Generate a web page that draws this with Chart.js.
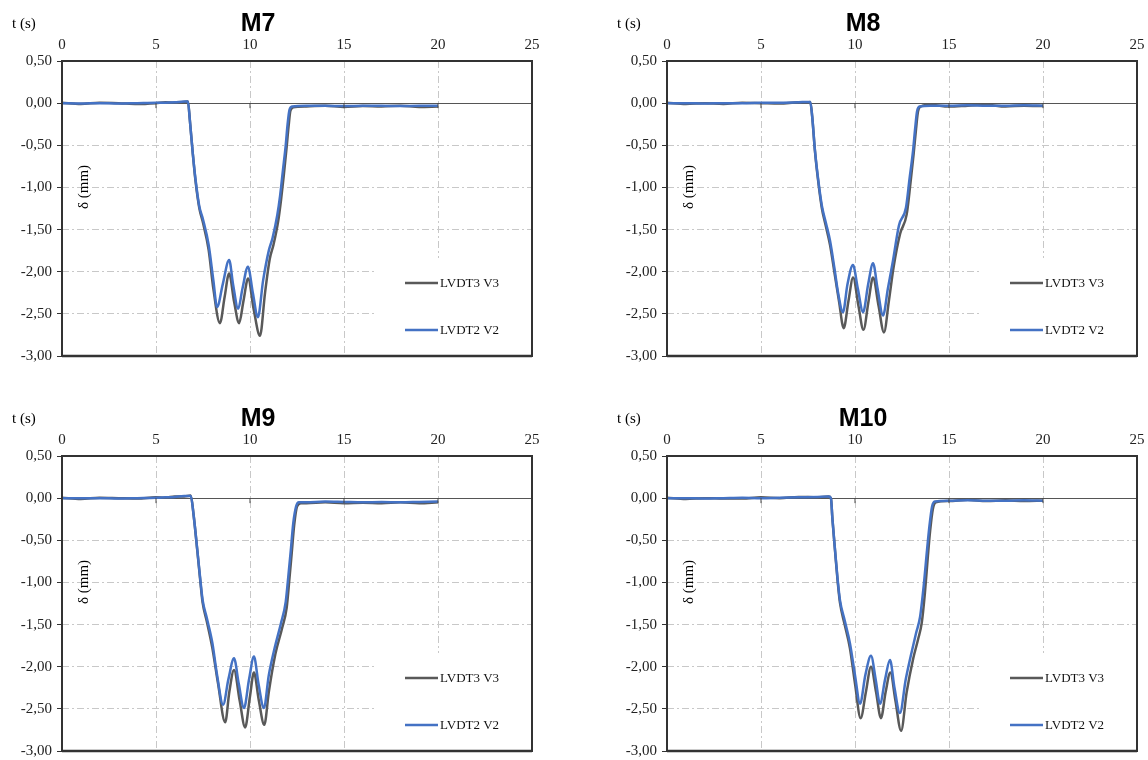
<!DOCTYPE html>
<html lang="es">
<head>
<meta charset="UTF-8">
<title>M7 - M10 LVDT</title>
<script src="https://cdn.jsdelivr.net/npm/chart.js"></script>
<style>
  body { margin: 0; background: #fff; overflow: hidden; width: 1148px; height: 760px; position: relative; }
  .panel { position: absolute; }
</style>
</head>
<body>
<div class="panel" style="left:0;top:0"><canvas id="c7" width="548" height="370"></canvas></div>
<div class="panel" style="left:605px;top:0"><canvas id="c8" width="548" height="370"></canvas></div>
<div class="panel" style="left:0;top:395px"><canvas id="c9" width="548" height="370"></canvas></div>
<div class="panel" style="left:605px;top:395px"><canvas id="c10" width="548" height="370"></canvas></div>
<script>
// labels
const panelTitles = ['M7', 'M8', 'M9', 'M10'];
const seriesNames = ['LVDT3 V3', 'LVDT2 V2'];
const xAxisName = 't (s)';
const yAxisName = 'δ (mm)';
const xTickValues = [0, 5, 10, 15, 20, 25];
const yTickValues = [0.5, 0, -0.5, -1, -1.5, -2, -2.5, -3];

// M7  (t in s, d in mm)  - V2 = blue, V3 = gray
const m7T2 = [0, 1, 2, 3, 4, 5, 5.5, 6, 6.5, 6.7, 6.8, 6.95, 7.1, 7.3, 7.5, 7.8, 8.05, 8.25, 8.55, 8.89, 9.1, 9.37, 9.6, 9.89, 10.15, 10.42, 10.7, 11.0, 11.2, 11.45, 11.6, 11.75, 11.9, 12.0, 12.1, 12.25, 13, 14, 15, 16, 17, 18, 19, 20];
const m7D2 = [0, -0.005, 0, -0.005, 0, 0.005, 0.005, 0.01, 0.02, 0.02, -0.2, -0.58, -0.9, -1.22, -1.38, -1.68, -2.1, -2.42, -2.15, -1.86, -2.15, -2.44, -2.2, -1.94, -2.25, -2.54, -2.1, -1.75, -1.6, -1.33, -1.1, -0.8, -0.5, -0.25, -0.08, -0.04, -0.03, -0.03, -0.035, -0.03, -0.03, -0.035, -0.03, -0.03];
const m7T3 = [0, 1, 2, 3, 4, 5, 5.5, 6, 6.5, 6.7, 6.8, 6.95, 7.1, 7.3, 7.5, 7.8, 8.05, 8.4, 8.65, 8.89, 9.15, 9.42, 9.65, 9.9, 10.2, 10.53, 10.8, 11.05, 11.25, 11.5, 11.65, 11.8, 11.95, 12.05, 12.15, 12.3, 13, 14, 15, 16, 17, 18, 19, 20];
const m7D3 = [0.005, -0.01, 0.005, 0, -0.01, 0, 0.01, 0.005, 0.015, 0.02, -0.2, -0.58, -0.92, -1.24, -1.42, -1.74, -2.2, -2.61, -2.3, -2.02, -2.35, -2.61, -2.35, -2.08, -2.45, -2.76, -2.25, -1.85, -1.68, -1.4, -1.15, -0.85, -0.52, -0.28, -0.09, -0.05, -0.04, -0.03, -0.045, -0.035, -0.04, -0.03, -0.045, -0.04];

// M8
const m8T2 = [0, 1, 2, 3, 4, 5, 6, 7, 7.5, 7.62, 7.72, 7.87, 8.05, 8.24, 8.45, 8.67, 8.9, 9.1, 9.36, 9.6, 9.89, 10.15, 10.43, 10.7, 10.96, 11.2, 11.49, 11.75, 12.02, 12.34, 12.71, 12.9, 13.09, 13.2, 13.3, 13.45, 14, 15, 16, 17, 18, 19, 20];
const m8D2 = [0, 0, -0.005, 0, 0, 0.005, 0.005, 0.01, 0.015, 0.015, -0.15, -0.56, -0.92, -1.22, -1.42, -1.63, -1.95, -2.25, -2.48, -2.15, -1.92, -2.2, -2.48, -2.15, -1.9, -2.2, -2.52, -2.2, -1.87, -1.45, -1.24, -0.9, -0.56, -0.3, -0.1, -0.04, -0.03, -0.03, -0.025, -0.03, -0.03, -0.025, -0.03];
const m8T3 = [0, 1, 2, 3, 4, 5, 6, 7, 7.5, 7.62, 7.72, 7.87, 8.05, 8.24, 8.45, 8.67, 8.9, 9.15, 9.4, 9.65, 9.9, 10.18, 10.45, 10.72, 10.96, 11.25, 11.54, 11.8, 12.05, 12.4, 12.75, 12.95, 13.12, 13.25, 13.35, 13.5, 14, 15, 16, 17, 18, 19, 20];
const m8D3 = [0.005, -0.01, 0, -0.01, 0.005, 0, -0.005, 0.01, 0.01, 0.015, -0.15, -0.57, -0.94, -1.25, -1.46, -1.68, -2.0, -2.35, -2.67, -2.35, -2.07, -2.4, -2.69, -2.35, -2.07, -2.4, -2.72, -2.35, -1.95, -1.55, -1.32, -0.95, -0.6, -0.3, -0.1, -0.04, -0.02, -0.04, -0.03, -0.02, -0.04, -0.03, -0.035];

// M9
const m9T2 = [0, 1, 2, 3, 4, 5, 5.5, 6, 6.5, 6.85, 7.0, 7.2, 7.35, 7.48, 7.7, 8.0, 8.25, 8.57, 8.85, 9.15, 9.4, 9.68, 9.95, 10.21, 10.45, 10.74, 11.0, 11.32, 11.64, 11.9, 12.05, 12.17, 12.3, 12.45, 12.6, 13, 14, 15, 16, 17, 18, 19, 20];
const m9D2 = [0, 0, 0, -0.005, 0, 0.005, 0.01, 0.015, 0.025, 0.025, -0.2, -0.62, -0.95, -1.21, -1.42, -1.72, -2.1, -2.45, -2.15, -1.9, -2.2, -2.49, -2.15, -1.88, -2.2, -2.49, -2.1, -1.77, -1.49, -1.23, -0.9, -0.62, -0.3, -0.1, -0.05, -0.05, -0.04, -0.045, -0.05, -0.045, -0.05, -0.045, -0.04];
const m9T3 = [0, 1, 2, 3, 4, 5, 5.5, 6, 6.5, 6.85, 7.0, 7.2, 7.35, 7.48, 7.7, 8.0, 8.3, 8.68, 8.9, 9.15, 9.45, 9.74, 10.0, 10.21, 10.47, 10.76, 11.0, 11.35, 11.7, 11.95, 12.1, 12.22, 12.35, 12.5, 12.7, 13, 14, 15, 16, 17, 18, 19, 20];
const m9D3 = [0.005, -0.01, 0.005, 0, -0.005, 0.01, 0.005, 0.02, 0.02, 0.03, -0.2, -0.63, -0.97, -1.24, -1.46, -1.78, -2.2, -2.66, -2.3, -2.04, -2.4, -2.72, -2.35, -2.07, -2.4, -2.69, -2.3, -1.85, -1.55, -1.3, -0.95, -0.65, -0.32, -0.1, -0.06, -0.06, -0.05, -0.06, -0.055, -0.06, -0.05, -0.06, -0.05];

// M10
const m10T2 = [0, 1, 2, 3, 4, 5, 6, 7, 8, 8.6, 8.72, 8.8, 8.94, 9.07, 9.2, 9.45, 9.73, 10.0, 10.27, 10.55, 10.85, 11.1, 11.33, 11.6, 11.86, 12.1, 12.39, 12.7, 13.03, 13.25, 13.46, 13.65, 13.83, 13.95, 14.1, 14.25, 15, 16, 17, 18, 19, 20];
const m10D2 = [0, 0, -0.005, 0, 0.005, 0, 0.005, 0.01, 0.015, 0.02, 0.0, -0.25, -0.62, -0.95, -1.21, -1.45, -1.72, -2.1, -2.44, -2.1, -1.87, -2.15, -2.44, -2.15, -1.92, -2.25, -2.55, -2.15, -1.81, -1.6, -1.41, -1.05, -0.62, -0.35, -0.1, -0.04, -0.03, -0.025, -0.03, -0.03, -0.025, -0.03];
const m10T3 = [0, 1, 2, 3, 4, 5, 6, 7, 8, 8.6, 8.72, 8.8, 8.94, 9.07, 9.2, 9.45, 9.73, 10.0, 10.3, 10.58, 10.85, 11.12, 11.38, 11.63, 11.88, 12.15, 12.45, 12.75, 13.1, 13.35, 13.55, 13.72, 13.88, 14.0, 14.15, 14.3, 15, 16, 17, 18, 19, 20];
const m10D3 = [0.005, -0.01, 0, -0.005, -0.005, 0.01, 0, 0.015, 0.01, 0.02, 0.0, -0.25, -0.63, -0.97, -1.24, -1.5, -1.78, -2.2, -2.61, -2.3, -2.0, -2.3, -2.61, -2.3, -2.07, -2.4, -2.76, -2.3, -1.9, -1.68, -1.48, -1.12, -0.68, -0.38, -0.12, -0.05, -0.035, -0.02, -0.035, -0.025, -0.035, -0.03];

const BLUE = '#4472C4';
const GRAY = '#595959';
const serif = '"Liberation Serif", "Times New Roman", serif';
const GRID_DASH = [7, 3, 2, 3];

function pts(t, d) {
  return t.map((x, i) => ({ x: x, y: d[i] }));
}

// frame, titles, axis names and the legend box inside the plot
const panelDecor = {
  id: 'panelDecor',
  beforeDatasetsDraw(chart) {
    const { ctx, chartArea: a } = chart;
    ctx.save();
    ctx.fillStyle = '#fff';
    ctx.fillRect(a.right - 155, a.bottom - 98, 155, 98);
    ctx.restore();
  },
  afterDraw(chart, args, opts) {
    const { ctx, chartArea: a } = chart;
    const x = chart.scales.x, y = chart.scales.y;
    ctx.save();
    ctx.strokeStyle = '#333';
    ctx.lineWidth = 2;
    ctx.strokeRect(a.left, a.top, a.right - a.left, a.bottom - a.top);
    ctx.lineWidth = 2.5;
    ctx.beginPath();
    ctx.moveTo(a.left, a.bottom);
    ctx.lineTo(a.right, a.bottom);
    ctx.stroke();

    // small marks under the zero line
    const y0 = y.getPixelForValue(0);
    ctx.lineWidth = 1;
    ctx.strokeStyle = '#444';
    xTickValues.slice(1, -1).forEach(v => {
      const px = x.getPixelForValue(v);
      ctx.beginPath();
      ctx.moveTo(px, y0);
      ctx.lineTo(px, y0 + 5);
      ctx.stroke();
    });

    ctx.fillStyle = '#000';
    ctx.textBaseline = 'middle';
    ctx.font = 'bold 25px "Liberation Sans", Arial, sans-serif';
    ctx.textAlign = 'center';
    ctx.fillText(opts.title, a.left + 196, 24);

    ctx.font = '15px ' + serif;
    ctx.textAlign = 'left';
    ctx.fillText(xAxisName, a.left - 50, 24);

    // legend
    ctx.font = '13px ' + serif;
    const rows = [[GRAY, seriesNames[0], 73], [BLUE, seriesNames[1], 26]];
    rows.forEach(r => {
      const ly = a.bottom - r[2];
      ctx.strokeStyle = r[0];
      ctx.lineWidth = 2.5;
      ctx.beginPath();
      ctx.moveTo(a.right - 127, ly);
      ctx.lineTo(a.right - 94, ly);
      ctx.stroke();
      ctx.fillStyle = '#111';
      ctx.fillText(r[1], a.right - 92, ly + 1);
    });

    ctx.font = '15px ' + serif;
    ctx.fillStyle = '#000';
    ctx.translate(a.left + 22, a.top + 126);
    ctx.rotate(-Math.PI / 2);
    ctx.textAlign = 'center';
    ctx.fillText(yAxisName, 0, 0);
    ctx.restore();
  }
};

function makeChart(id, title, t2, d2, t3, d3) {
  const lineStyle = { borderWidth: 2.5, pointRadius: 0, cubicInterpolationMode: 'monotone', fill: false };
  return new Chart(document.getElementById(id), {
    type: 'line',
    data: {
      datasets: [
        Object.assign({ label: seriesNames[1], data: pts(t2, d2), borderColor: BLUE }, lineStyle),
        Object.assign({ label: seriesNames[0], data: pts(t3, d3), borderColor: GRAY }, lineStyle)
      ]
    },
    options: {
      responsive: false,
      animation: false,
      layout: { padding: { left: 0, top: 0, right: 16, bottom: 14 } },
      plugins: {
        legend: { display: false },
        tooltip: { enabled: false },
        panelDecor: { title: title }
      },
      scales: {
        x: {
          type: 'linear',
          position: 'top',
          min: 0,
          max: 25,
          afterBuildTicks: s => { s.ticks = xTickValues.map(v => ({ value: v })); },
          afterFit: s => { s.height = 61; },
          ticks: { font: { family: serif, size: 15 }, color: '#222', padding: 7, maxRotation: 0 },
          grid: { drawTicks: false, color: '#c8c8c8', lineWidth: 1 },
          border: { display: false, dash: GRID_DASH }
        },
        y: {
          min: -3,
          max: 0.5,
          afterBuildTicks: s => { s.ticks = yTickValues.map(v => ({ value: v })); },
          afterFit: s => { s.width = 62; },
          ticks: {
            font: { family: serif, size: 15 },
            color: '#222',
            padding: 5,
            callback: v => v.toFixed(2).replace('.', ',')
          },
          grid: {
            color: c => (c.tick && c.tick.value === 0 ? '#555' : '#c8c8c8'),
            lineWidth: 1,
            tickColor: '#333',
            tickLength: 5,
            tickBorderDash: []
          },
          border: { display: false, dash: c => (c.tick && c.tick.value === 0 ? [] : GRID_DASH) }
        }
      }
    },
    plugins: [panelDecor]
  });
}

makeChart('c7', panelTitles[0], m7T2, m7D2, m7T3, m7D3);
makeChart('c8', panelTitles[1], m8T2, m8D2, m8T3, m8D3);
makeChart('c9', panelTitles[2], m9T2, m9D2, m9T3, m9D3);
makeChart('c10', panelTitles[3], m10T2, m10D2, m10T3, m10D3);
</script>
</body>
</html>
